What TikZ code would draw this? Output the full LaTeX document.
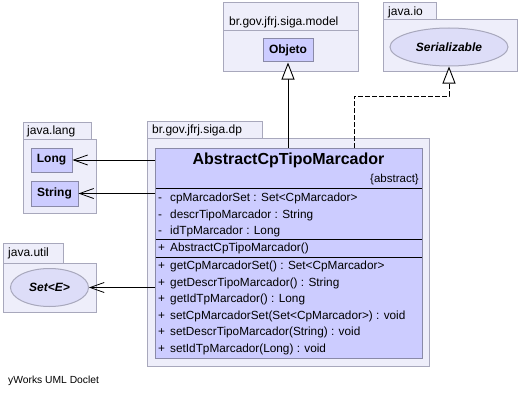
\documentclass[tikz,border=0pt]{standalone}
\usepackage{fontspec}
\setmainfont{Liberation Sans}
\usetikzlibrary{arrows.meta,shapes.geometric}
\definecolor{pkgfill}{HTML}{EEEEFA}
\definecolor{pkgdraw}{HTML}{A8A8BC}
\definecolor{clsfill}{HTML}{CCCCFF}
\definecolor{clsdraw}{HTML}{8A8AA8}
\definecolor{elfill}{HTML}{DDDDF8}
\tikzset{
  pkgbox/.style={draw=pkgdraw, fill=pkgfill, line width=1pt, inner sep=0pt},
  pkglabel/.style={anchor=west, inner sep=0pt, font=\fontsize{12}{14}\selectfont},
  typebox/.style={draw=clsdraw, fill=clsfill, line width=1pt, inner sep=0pt, font=\fontsize{12}{14}\selectfont\bfseries},
  ifell/.style={ellipse, draw=pkgdraw, fill=elfill, line width=1pt, inner sep=0pt, font=\fontsize{12}{14}\selectfont\bfseries\itshape},
  member/.style={anchor=west, inner sep=0pt, text height=8pt, text depth=2.5pt, font=\fontsize{11.8}{13}\selectfont},
  vis/.style={anchor=west, inner sep=0pt, text height=8pt, text depth=2.5pt, font=\fontsize{11.8}{13}\selectfont},
  divline/.style={draw=black, line width=0.9pt},
  dep/.style={draw=black, line width=1pt, -{Straight Barb[length=14pt, width=10pt, line width=0.8pt]}},
  gen/.style={draw=black, line width=1pt, -{Triangle[open, fill=white, length=17pt, width=13pt, line width=0.9pt]}},
  real/.style={gen, dash pattern=on 5pt off 2pt}
}
\begin{document}
\begin{tikzpicture}[x=1pt, y=-1pt]
\useasboundingbox (0,0) rectangle (519,404);
\fill[white] (0,0) rectangle (519,404);

% package br.gov.jfrj.siga.model
\node[pkgbox, minimum width=135pt, minimum height=41pt] (modelbody) at (290.5,51) {};
\node[pkgbox, minimum width=135pt, minimum height=28pt] (modeltab) at (290.5,17) {};
\node[pkglabel] (modellbl) at (229,22) {br.gov.jfrj.siga.model};

% package java.io
\node[pkgbox, minimum width=134pt, minimum height=51pt] (iobody) at (450,45.5) {};
\node[pkgbox, minimum width=53pt, minimum height=17pt] (iotab) at (409.5,11.5) {};
\node[pkglabel] (iolbl) at (388,12) {java.io};

% package br.gov.jfrj.siga.dp
\node[pkgbox, minimum width=282pt, minimum height=228pt] (dpbody) at (288,252) {};
\node[pkgbox, minimum width=115pt, minimum height=17pt] (dptab) at (204.5,129.5) {};
\node[pkglabel] (dplbl) at (152,130) {br.gov.jfrj.siga.dp};

% package java.lang
\node[pkgbox, minimum width=73pt, minimum height=74pt] (langbody) at (59.5,176) {};
\node[pkgbox, minimum width=68pt, minimum height=17pt] (langtab) at (57,130.5) {};
\node[pkglabel] (langlbl) at (27,131) {java.lang};

% package java.util
\node[pkgbox, minimum width=93pt, minimum height=49pt] (utilbody) at (49.5,287.5) {};
\node[pkgbox, minimum width=60pt, minimum height=20pt] (utiltab) at (33,253) {};
\node[pkglabel] (utillbl) at (8,253) {java.util};

% types
\node[typebox, minimum width=50pt, minimum height=23pt] (objeto) at (288,50.5) {Objeto};
\node[ifell, minimum width=118pt, minimum height=38pt] (serial) at (449,47) {Serializable};
\node[typebox, minimum width=41pt, minimum height=24pt] (long) at (51.5,160) {Long};
\node[typebox, minimum width=47pt, minimum height=25pt] (string) at (54.5,193.5) {String};
\node[ifell, minimum width=78pt, minimum height=38pt] (setE) at (49.5,287.5) {Set<\textit{E}>};

% class
\node[draw=clsdraw, fill=clsfill, line width=1pt, minimum width=267pt, minimum height=210pt, inner sep=0pt] (cls) at (288.5,253) {};
\node[inner sep=0pt, font=\fontsize{16}{18}\selectfont\bfseries] (clsname) at (288.5,160) {AbstractCpTipoMarcador};
\node[anchor=east, inner sep=0pt, font=\fontsize{11.5}{13}\selectfont] (abs) at (419,180) {\{abstract\}};
\coordinate (d1l) at (155.5,188); \coordinate (d1r) at (421.5,188);
\coordinate (d2l) at (155.5,239.5); \coordinate (d2r) at (421.5,239.5);
\coordinate (d3l) at (155.5,257); \coordinate (d3r) at (421.5,257);
\draw[divline] (d1l) -- (d1r);
\draw[divline] (d2l) -- (d2r);
\draw[divline] (d3l) -- (d3r);

\node[vis] (v1) at (158,199) {-};
\node[member] (m1) at (170,199) {cpMarcadorSet : Set<CpMarcador>};
\node[vis] (v2) at (158,215.5) {-};
\node[member] (m2) at (170,215.5) {descrTipoMarcador : String};
\node[vis] (v3) at (158,232) {-};
\node[member] (m3) at (170,232) {idTpMarcador : Long};
\node[vis] (v4) at (158,249) {+};
\node[member] (m4) at (170,249) {AbstractCpTipoMarcador()};
\node[vis] (v5) at (158,267) {+};
\node[member] (m5) at (170,267) {getCpMarcadorSet() : Set<CpMarcador>};
\node[vis] (v6) at (158,283.5) {+};
\node[member] (m6) at (170,283.5) {getDescrTipoMarcador() : String};
\node[vis] (v7) at (158,300) {+};
\node[member] (m7) at (170,300) {getIdTpMarcador() : Long};
\node[vis] (v8) at (158,316.5) {+};
\node[member] (m8) at (170,316.5) {setCpMarcadorSet(Set<CpMarcador>) : void};
\node[vis] (v9) at (158,333) {+};
\node[member] (m9) at (170,333) {setDescrTipoMarcador(String) : void};
\node[vis] (v10) at (158,349.5) {+};
\node[member] (m10) at (170,349.5) {setIdTpMarcador(Long) : void};

% connectors
\draw[gen] (cls.north -| objeto.south) -- (objeto.south);
\coordinate (rstart) at (354,148);
\coordinate (rbend1) at (354,96);
\coordinate (rbend2) at (449,96);
\draw[real] (rstart) -- (rbend1) -- (rbend2) -- (serial.south);
\draw[dep] (cls.west |- long.east) -- (long.east);
\draw[dep] (cls.west |- string.east) -- (string.east);
\draw[dep] (cls.west |- setE.east) -- (setE.east);

\node[anchor=west, inner sep=0pt, font=\fontsize{10.3}{12}\selectfont] (footer) at (8,381) {yWorks UML Doclet};
\end{tikzpicture}
\end{document}
